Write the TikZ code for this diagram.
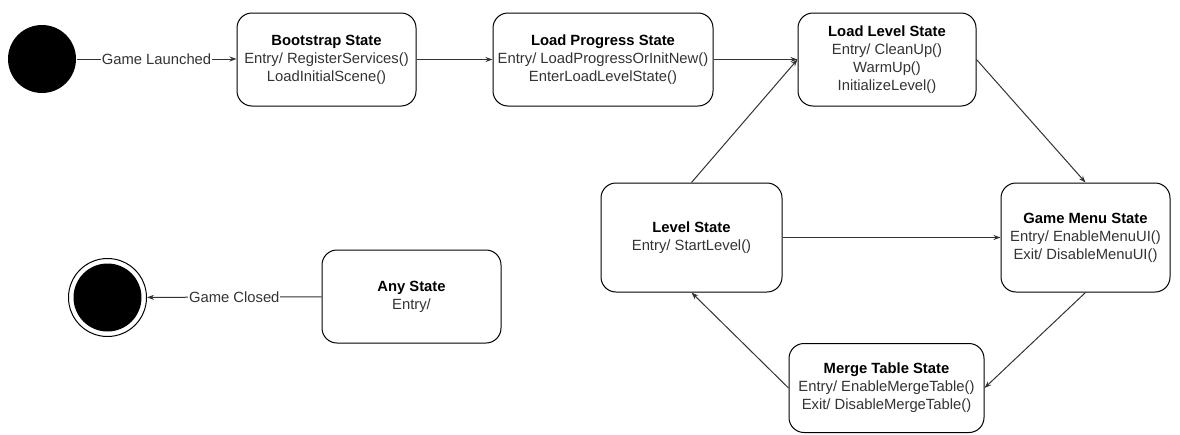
\documentclass[tikz,border=0pt]{standalone}
\usepackage{fontspec}
\setmainfont{Liberation Sans}
\usetikzlibrary{arrows.meta}
\definecolor{inkgray}{HTML}{333333}
\begin{document}
\begin{tikzpicture}[x=1pt,y=-1pt,>={Stealth[length=7pt,width=5pt]},font=\fontsize{14.8}{18}\selectfont,line width=1pt]
  \tikzset{statebox/.style={draw, rounded corners=15pt, minimum height=93pt, align=center, text=inkgray},
           trans/.style={->, draw=inkgray},
           cond/.style={fill=white, inner sep=1pt, text=inkgray}}
  \useasboundingbox (0,0) rectangle (1180,434);
  % pseudo states
  \node[circle, fill=black, minimum size=68pt, inner sep=0pt] (start) at (42,59) {};
  \node[circle, draw, minimum size=78pt, inner sep=0pt] (final) at (107.5,297.5) {};
  \node[circle, fill=black, minimum size=68pt, inner sep=0pt] (finaldot) at (final.center) {};
  % states
  \node[statebox, minimum width=179pt] (bootstrap) at (326.5,59.5) {{\color{black}\bfseries Bootstrap State}\\Entry/ RegisterServices()\\LoadInitialScene()};
  \node[statebox, minimum width=220pt] (progress) at (603,59.5) {{\color{black}\bfseries Load Progress State}\\Entry/ LoadProgressOrInitNew()\\EnterLoadLevelState()};
  \node[statebox, minimum width=178pt] (loadlevel) at (887,59.5) {{\color{black}\bfseries Load Level State}\\Entry/ CleanUp()\\WarmUp()\\InitializeLevel()};
  \node[statebox, minimum width=181pt, minimum height=109pt] (level) at (691.5,237.5) {{\color{black}\bfseries Level State}\\Entry/ StartLevel()};
  \node[statebox, minimum width=169pt, minimum height=109pt] (menu) at (1085.5,237.5) {{\color{black}\bfseries Game Menu State}\\Entry/ EnableMenuUI()\\Exit/ DisableMenuUI()};
  \node[statebox, minimum width=195pt, minimum height=89pt] (merge) at (886.5,388) {{\color{black}\bfseries Merge Table State}\\Entry/ EnableMergeTable()\\Exit/ DisableMergeTable()};
  \node[statebox, minimum width=179pt] (any) at (411.5,296.5) {{\color{black}\bfseries Any State}\\Entry/};
  % transitions
  \draw[trans] (start) -- node[cond] {Game Launched} (bootstrap.west |- start);
  \draw[trans] (bootstrap) -- (progress);
  \draw[trans] (progress) -- (loadlevel);
  \draw[trans] (loadlevel.east) -- (menu.north);
  \draw[trans] (level) -- (menu);
  \draw[trans] (menu.south) -- (merge.east);
  \draw[trans] (merge.west) -- (level.south);
  \draw[trans] (level.north) -- (loadlevel.west);
  \draw[trans] (any) -- node[cond] {Game Closed} (final);
\end{tikzpicture}
\end{document}
